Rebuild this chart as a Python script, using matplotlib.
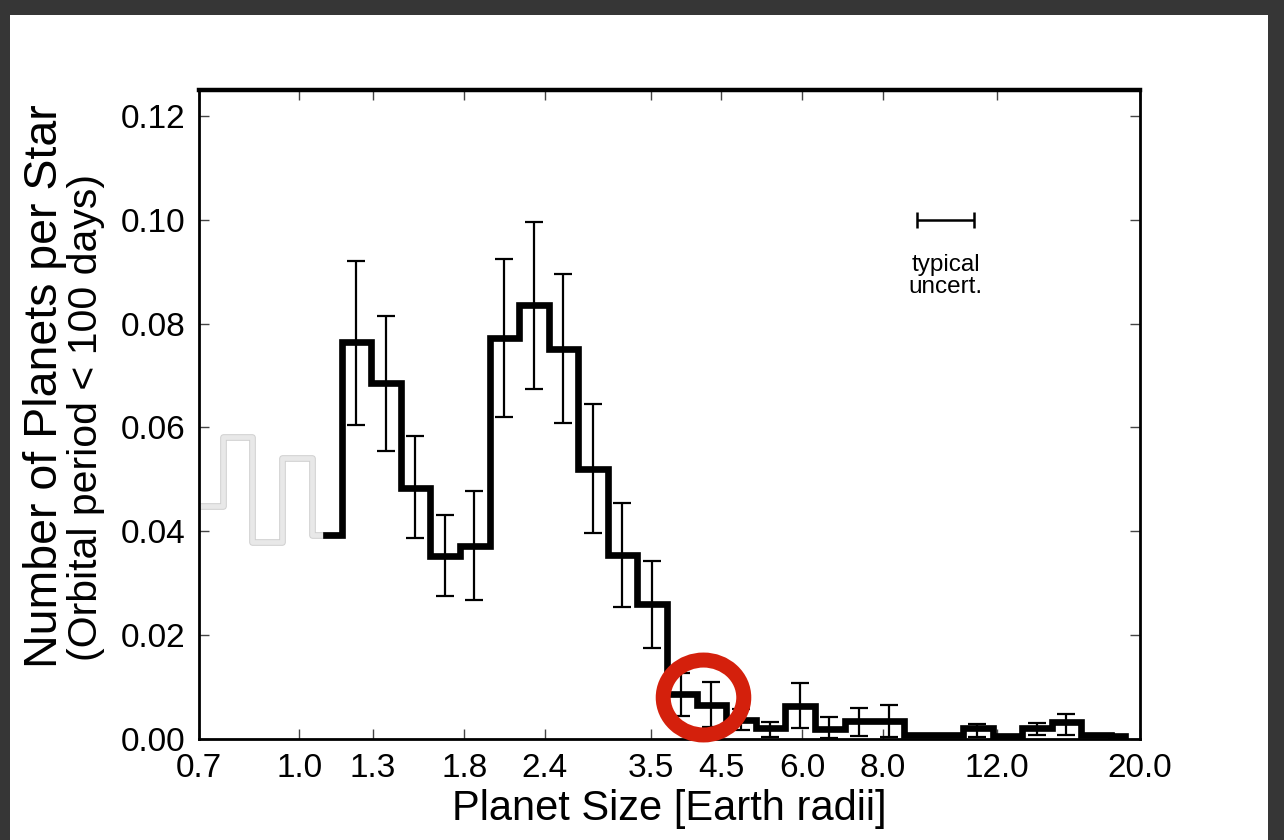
import numpy as np
import matplotlib
matplotlib.use('Agg')
import matplotlib.pyplot as plt
import matplotlib.patheffects as pe
from matplotlib.patches import Rectangle
from matplotlib.path import Path
from matplotlib.ticker import NullLocator

plt.rcParams['font.family'] = ['Liberation Sans', 'DejaVu Sans']

# 35 log-spaced radius bins from 0.5 to 20 Earth radii; bins 3-34 are in the plot range
bin_edges = np.logspace(np.log10(0.5), np.log10(20.0), 36)[3:]
bin_centers = np.sqrt(bin_edges[:-1] * bin_edges[1:])

# low-completeness bins (drawn light gray)
gray_rate = [0.0448, 0.0582, 0.0379, 0.0542, 0.0392]

# occurrence per bin, from the 5th plotted bin (1.05-1.17 Re) to 20 Re
rate = [0.0392, 0.0764, 0.0685, 0.0484, 0.0353, 0.0372, 0.0772, 0.0835,
        0.0752, 0.0521, 0.0355, 0.0260, 0.0087, 0.0066, 0.0036, 0.0022,
        0.0064, 0.0020, 0.0034, 0.0035, 0.0007, 0.0008, 0.0021, 0.0006,
        0.0021, 0.0033, 0.0008, 0.0006]
# ends of the error bars (nan = no bar)
err_top = [np.nan, 0.0920, 0.0814, 0.0584, 0.0431, 0.0477, 0.0925, 0.0996,
           0.0895, 0.0646, 0.0454, 0.0343, 0.0128, 0.0110, 0.0058, 0.0033,
           0.0107, 0.0042, 0.0059, 0.0065, np.nan, np.nan, 0.0029, np.nan,
           0.0030, 0.0049, np.nan, np.nan]
err_bot = [np.nan, 0.0605, 0.0555, 0.0387, 0.0275, 0.0268, 0.0620, 0.0674,
           0.0609, 0.0396, 0.0255, 0.0176, 0.0044, 0.0024, 0.0018, 0.0004,
           0.0022, 0.0002, 0.0005, 0.0004, np.nan, np.nan, 0.0004, np.nan,
           0.0008, 0.0008, np.nan, np.nan]

x_ticks = [0.7, 1.0, 1.3, 1.8, 2.4, 3.5, 4.5, 6.0, 8.0, 12.0, 20.0]
y_ticks = [0.00, 0.02, 0.04, 0.06, 0.08, 0.10, 0.12]

# typical radius uncertainty marker
typ_x, typ_y = 10.0, 0.100
typ_lo, typ_hi = 9.05, 11.05

# red ring highlighting the 3.5-4.5 Re bins
ring_x, ring_y = 4.22, 0.0080

W, H = 1284, 840


def main():
    fig = plt.figure(figsize=(W / 100, H / 100), dpi=100)
    fig.patch.set_facecolor('#363636')
    # white slide area
    fig.add_artist(Rectangle((10 / W, 0), 1258 / W, 1 - 15 / H,
                             transform=fig.transFigure, facecolor='white',
                             edgecolor='none', zorder=-10))
    ax = fig.add_axes([0.155, 0.1202, 0.7329, 0.7727])
    ax.set_facecolor('white')
    ax.set_xscale('log')

    # gray part of the histogram
    ax.stairs(gray_rate, bin_edges[:len(gray_rate) + 1], baseline=None,
              color='#e8e8e8', linewidth=3.4, joinstyle='round', zorder=2,
              path_effects=[pe.Stroke(linewidth=4.8, foreground='#cfcfcf'), pe.Normal()])

    xc = bin_centers[len(gray_rate) - 1:]
    ax.plot(xc, rate, drawstyle='steps-mid', color='black', linewidth=4.8,
            solid_joinstyle='miter', zorder=3)

    top = np.array(err_top)
    bot = np.array(err_bot)
    r = np.array(rate)
    ok = ~np.isnan(top)
    ax.errorbar(xc[ok], r[ok], yerr=[r[ok] - bot[ok], top[ok] - r[ok]],
                fmt='none', ecolor='black', elinewidth=1.6, capsize=6.2,
                capthick=1.6, zorder=4)

    # typical uncertainty
    ax.errorbar([typ_x], [typ_y], xerr=[[typ_x - typ_lo], [typ_hi - typ_x]],
                fmt='none', ecolor='black', elinewidth=1.8, capsize=5.5, capthick=1.8)
    ax.text(typ_x, typ_y - 0.0108, 'typical\nuncert.', ha='center', va='center',
            fontsize=17.5, linespacing=1.0)

    # highlight ring
    circ = Path.unit_circle()
    ring = Path(circ.vertices * [1.0, 0.93], circ.codes)
    ax.plot([ring_x], [ring_y], marker=ring, markersize=58, markerfacecolor='none',
            markeredgecolor='#d4200c', markeredgewidth=10.8, linestyle='none',
            clip_on=False, zorder=6)

    ax.set_xlim(0.7, 20.0)
    ax.set_ylim(0, 0.125)
    ax.set_xticks(x_ticks)
    ax.set_xticklabels([f'{t:.1f}' for t in x_ticks])
    ax.xaxis.set_minor_locator(NullLocator())
    ax.set_yticks(y_ticks)
    ax.set_yticklabels([f'{t:.2f}' for t in y_ticks])

    ax.tick_params(direction='in', length=7, width=1, color='#444444',
                   top=True, right=True, labelsize=24, pad=10)

    for side in ['left', 'right', 'bottom']:
        ax.spines[side].set_linewidth(2.0)
    ax.spines['top'].set_linewidth(3.2)

    ax.set_xlabel('Planet Size [Earth radii]', fontsize=30, labelpad=4)

    # y label: two lines of different size, starting at the same height
    fig.text(57 / W, 1 - 668 / H, 'Number of Planets per Star', rotation=90,
             rotation_mode='anchor', ha='left', va='baseline', fontsize=33.5)
    fig.text(97 / W, 1 - 661 / H, '(Orbital period < 100 days)', rotation=90,
             rotation_mode='anchor', ha='left', va='baseline', fontsize=29.5)

    fig.savefig('out.png', dpi=100, facecolor=fig.get_facecolor())


if __name__ == '__main__':
    main()
